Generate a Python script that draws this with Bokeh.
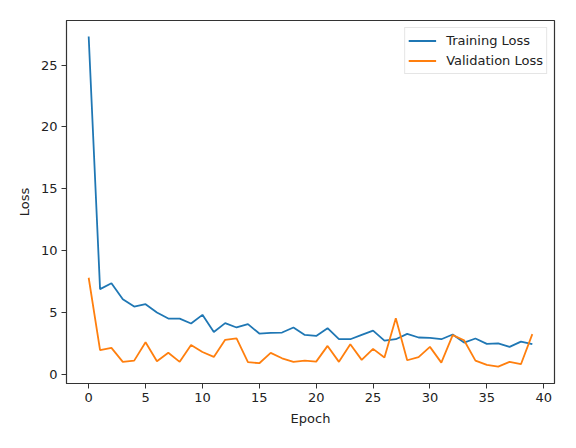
from bokeh.plotting import figure
from bokeh.models import Range1d, FixedTicker, Legend, LegendItem, BoxAnnotation
from bokeh.embed import file_html
from bokeh.resources import INLINE

epochs = list(range(40))
training_loss = [27.3, 6.88, 7.36, 6.07, 5.47, 5.66, 4.99, 4.5, 4.5, 4.1,
                 4.8, 3.42, 4.13, 3.78, 4.05, 3.29, 3.34, 3.37, 3.78, 3.18,
                 3.1, 3.72, 2.83, 2.83, 3.18, 3.53, 2.72, 2.83, 3.26, 2.97,
                 2.94, 2.83, 3.21, 2.56, 2.89, 2.45, 2.5, 2.21, 2.64, 2.43]
validation_loss = [7.8, 1.94, 2.13, 1.0, 1.1, 2.59, 1.05, 1.73, 1.0, 2.37,
                   1.8, 1.4, 2.78, 2.89, 0.97, 0.89, 1.73, 1.29, 1.0, 1.1,
                   1.02, 2.29, 1.0, 2.43, 1.16, 2.05, 1.35, 4.53, 1.13, 1.38,
                   2.21, 0.94, 3.16, 2.75, 1.1, 0.76, 0.62, 1.0, 0.81, 3.24]
x_ticks = [0, 5, 10, 15, 20, 25, 30, 35, 40]
y_ticks = [0, 5, 10, 15, 20, 25]

FONT = "DejaVu Sans"

p = figure(width=560, height=432, output_backend="svg", toolbar_location=None,
           x_range=Range1d(-1.95, 40.95), y_range=Range1d(-0.75, 28.6),
           min_border_left=66, min_border_right=6, min_border_top=20, min_border_bottom=49)
p.grid.visible = False
p.outline_line_color = "#333333"
p.outline_line_width = 1.2

# outer picture frame (top and left edges visible)
p.add_layout(BoxAnnotation(left=0.75, top=1.0, right=700, bottom=700,
                           left_units="canvas", right_units="canvas",
                           top_units="canvas", bottom_units="canvas",
                           fill_alpha=0, line_color="#222222", line_width=1.5,
                           level="overlay"))

r1 = p.line(epochs, training_loss, line_color="#1f77b4", line_width=1.8)
r2 = p.line(epochs, validation_loss, line_color="#ff7f0e", line_width=1.8)

for ax, ticks, label in ((p.xaxis[0], x_ticks, "Epoch"), (p.yaxis[0], y_ticks, "Loss")):
    ax.ticker = FixedTicker(ticks=ticks)
    ax.axis_label = label
    ax.axis_label_text_font = FONT
    ax.axis_label_text_font_size = "13px"
    ax.axis_label_text_font_style = "normal"
    ax.axis_label_text_color = "#222222"
    ax.major_label_text_font = FONT
    ax.major_label_text_font_size = "13px"
    ax.major_label_text_color = "#222222"
    ax.major_tick_out = 5
    ax.major_tick_in = 0
    ax.minor_tick_out = 0
    ax.minor_tick_in = 0
    ax.axis_line_color = "#333333"
    ax.major_tick_line_color = "#333333"
    ax.major_label_standoff = 4
    ax.axis_label_standoff = 6

legend = Legend(items=[LegendItem(label="Training Loss", renderers=[r1]),
                       LegendItem(label="Validation Loss", renderers=[r2])],
                location="top_right")
legend.label_text_font = FONT
legend.label_text_font_size = "13px"
legend.label_text_color = "#222222"
legend.glyph_width = 28
legend.glyph_height = 19
legend.label_height = 19
legend.spacing = 1
legend.padding = 3
legend.margin = 7
legend.label_standoff = 10
legend.border_line_color = "#cccccc"
legend.border_line_width = 1
legend.background_fill_alpha = 0.8
p.add_layout(legend)

open("out.html", "w").write(file_html(p, INLINE))
